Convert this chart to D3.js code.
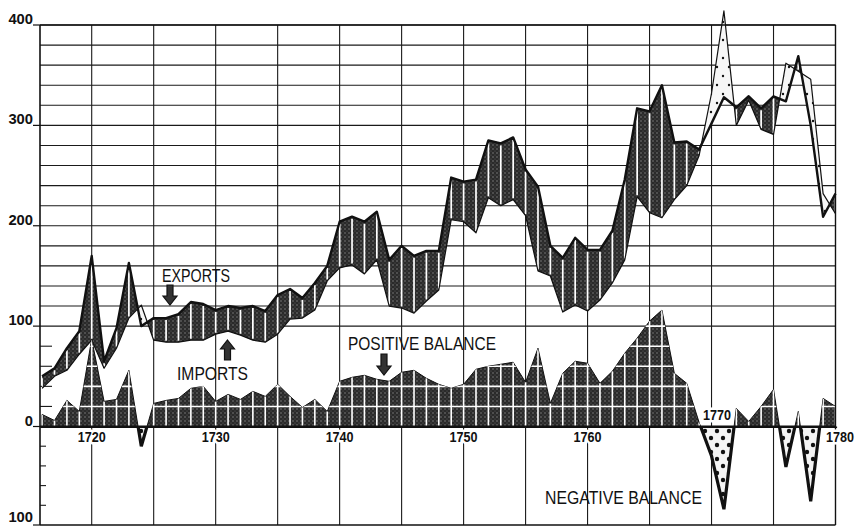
<!DOCTYPE html>
<html><head><meta charset="utf-8">
<script src="https://cdn.jsdelivr.net/npm/d3@7"></script>
<style>body{margin:0;background:#fff} svg{display:block}</style>
</head><body><svg id="c" width="856" height="526"></svg>
<script>
// ---------- data ----------
const years = d3.range(1716, 1781);
const exportsData = [50,58,78,95,170,65,98,163,100,108,108,112,124,122,116,120,118,120,115,131,137,128,143,160,
  204,209,204,214,166,180,170,175,175,248,244,246,285,282,288,256,239,180,168,188,176,176,195,246,317,314,340,
  283,284,276,302,328,318,329,317,329,324,369,300,209,232];
const importsData = [38,50,56,72,86,58,78,108,121,86,84,84,86,86,92,95,91,86,84,92,107,108,116,145,
  158,161,152,166,120,118,113,125,136,206,204,193,228,220,226,210,155,150,114,121,115,126,143,166,229,213,208,
  226,240,270,332,414,300,325,296,291,362,354,346,232,212];
const balanceData = [12,6,26,15,87,25,27,56,-20,23,26,28,38,40,25,32,27,35,30,42,30,19,27,15,
  45,49,51,47,45,54,56,48,42,38,42,57,60,62,64,44,78,23,53,65,63,43,55,73,88,105,116,
  53,43,4,-30,-84,18,5,20,37,-41,15,-76,28,20];
const yTickValues = [400,300,200,100,0,-100];
const yTickLabels = ["400","300","200","100","0","100"];
const decadeLabels = [1720,1730,1740,1750,1760];
const gridYears = d3.range(1720, 1781, 5);
const gridValues = d3.range(100, 401, 20);
const smallTicksPos = [20,40,60,80];
const smallTicksNeg = [-20,-40,-60,-80];
const balanceGrid = [20,40,60,80,100,120];

// ---------- scales ----------
const W = 856, H = 526;
const x = d3.scaleLinear().domain([1720, 1780]).range([91.7, 835.5]);
const y = d3.scaleLinear().domain([-100, 0, 400]).range([525, 426.5, 25]);
const L = 40, R = x(1780);
const FONT = "'Liberation Sans','Arial',sans-serif";

const data = years.map((yr, i) => ({yr, e: exportsData[i], im: importsData[i], b: balanceData[i]}));
const svg = d3.select("#c");
const defs = svg.append("defs");

// patterns
const st = defs.append("pattern").attr("id","stip").attr("patternUnits","userSpaceOnUse").attr("width",4).attr("height",4);
st.append("rect").attr("width",4).attr("height",4).attr("fill","#2a2a2a");
st.append("circle").attr("cx",1).attr("cy",1).attr("r",0.7).attr("fill","#8c8c8c");
st.append("circle").attr("cx",3).attr("cy",3).attr("r",0.5).attr("fill","#6a6a6a");
const dl = defs.append("pattern").attr("id","dotL").attr("patternUnits","userSpaceOnUse").attr("width",12).attr("height",18);
dl.append("rect").attr("width",12).attr("height",18).attr("fill","#f6f6f6");
dl.append("circle").attr("cx",3).attr("cy",4).attr("r",1.2).attr("fill","#111");
dl.append("circle").attr("cx",9).attr("cy",13).attr("r",1.2).attr("fill","#111");
const dn = defs.append("pattern").attr("id","dotN").attr("patternUnits","userSpaceOnUse").attr("width",12).attr("height",14);
dn.append("rect").attr("width",12).attr("height",14).attr("fill","#f4f4f4");
dn.append("circle").attr("cx",3).attr("cy",4).attr("r",2.2).attr("fill","#111");
dn.append("circle").attr("cx",9).attr("cy",11).attr("r",2.2).attr("fill","#111");

// clip paths
const areaBelowE = d3.area().x(d=>x(d.yr)).y0(H+50).y1(d=>y(d.e));
const areaAboveE = d3.area().x(d=>x(d.yr)).y0(-50).y1(d=>y(d.e));
defs.append("clipPath").attr("id","belowE").append("path").attr("d", areaBelowE(data));
defs.append("clipPath").attr("id","aboveE").append("path").attr("d", areaAboveE(data));
defs.append("clipPath").attr("id","aboveZero").append("rect").attr("x",0).attr("y",0).attr("width",W).attr("height",y(0));
defs.append("clipPath").attr("id","belowZero").append("rect").attr("x",0).attr("y",y(0)).attr("width",W).attr("height",H-y(0));
const balArea = d3.area().x(d=>x(d.yr)).y0(y(0)).y1(d=>y(d.b));
defs.append("clipPath").attr("id","balClip").append("path").attr("d", balArea(data));

// ---------- grid ----------
const grid = svg.append("g").attr("stroke","#1a1a1a").attr("stroke-width",1.1);
grid.selectAll(".h").data(gridValues).join("line")
  .attr("x1",L).attr("x2",R).attr("y1",d=>y(d)).attr("y2",d=>y(d));
grid.selectAll(".v").data(gridYears).join("line")
  .attr("x1",d=>x(d)).attr("x2",d=>x(d)).attr("y1",y(400)).attr("y2",y(-100));
grid.selectAll(".tp").data(smallTicksPos).join("line")
  .attr("x1",L).attr("x2",L+12).attr("y1",d=>y(d)).attr("y2",d=>y(d));
grid.selectAll(".tn").data(smallTicksNeg).join("line")
  .attr("x1",L).attr("x2",L+6).attr("y1",d=>y(d)).attr("y2",d=>y(d));

// ---------- export / import band ----------
const band = d3.area().x(d=>x(d.yr)).y0(d=>y(d.im)).y1(d=>y(d.e));
svg.append("path").attr("d", band(data)).attr("fill","url(#stip)").attr("clip-path","url(#belowE)");
svg.append("path").attr("d", band(data)).attr("fill","url(#dotL)").attr("clip-path","url(#aboveE)");
svg.append("g").attr("clip-path","url(#belowE)").selectAll("line")
  .data(data.filter(d=>d.e - d.im > 4)).join("line")
  .attr("x1",d=>x(d.yr)).attr("x2",d=>x(d.yr))
  .attr("y1",d=>y(d.e)+2).attr("y2",d=>y(d.im)-1.5)
  .attr("stroke","#fff").attr("stroke-width",1.7);
const lineE = d3.line().x(d=>x(d.yr)).y(d=>y(d.e));
const lineI = d3.line().x(d=>x(d.yr)).y(d=>y(d.im));
svg.append("path").attr("d", lineI(data)).attr("fill","none").attr("stroke","#111").attr("stroke-width",1.2).attr("stroke-linejoin","round");
svg.append("path").attr("d", lineE(data)).attr("fill","none").attr("stroke","#111").attr("stroke-width",2.4).attr("stroke-linejoin","round");

// ---------- balance ----------
const pos = svg.append("g").attr("clip-path","url(#aboveZero)");
pos.append("path").attr("d", balArea(data)).attr("fill","url(#stip)").attr("stroke","#111").attr("stroke-width",1);
const posGrid = pos.append("g").attr("clip-path","url(#balClip)");
posGrid.selectAll(".bv").data(data.filter(d=>d.b>0)).join("line")
  .attr("x1",d=>x(d.yr)).attr("x2",d=>x(d.yr)).attr("y1",y(0)).attr("y2",d=>y(d.b))
  .attr("stroke","#fff").attr("stroke-width",1.6);
posGrid.selectAll(".bh").data(balanceGrid).join("line")
  .attr("x1",L).attr("x2",R).attr("y1",d=>y(d)).attr("y2",d=>y(d))
  .attr("stroke","#fff").attr("stroke-width",1.6);
const neg = svg.append("g").attr("clip-path","url(#belowZero)");
neg.append("path").attr("d", balArea(data)).attr("fill","url(#dotN)").attr("stroke","#111").attr("stroke-width",3.2).attr("stroke-linejoin","miter");

// ---------- frame ----------
const frame = svg.append("g").attr("stroke","#111");
frame.append("line").attr("x1",L).attr("x2",R).attr("y1",y(0)).attr("y2",y(0)).attr("stroke-width",2);
frame.append("line").attr("x1",L).attr("x2",L).attr("y1",y(400)).attr("y2",y(-100)).attr("stroke-width",1.6);
frame.append("line").attr("x1",R).attr("x2",R).attr("y1",y(400)).attr("y2",y(-100)).attr("stroke-width",1.3);
frame.append("line").attr("x1",L).attr("x2",R).attr("y1",y(-100)).attr("y2",y(-100)).attr("stroke-width",1.6);
frame.append("line").attr("x1",L).attr("x2",R).attr("y1",y(400)).attr("y2",y(400)).attr("stroke-width",1.4);
frame.selectAll(".yt").data(yTickValues).join("line")
  .attr("x1",33).attr("x2",L).attr("y1",d=>y(d)).attr("y2",d=>y(d)).attr("stroke-width",1.2);

// ---------- labels ----------
function label(sel){
  return sel.attr("font-family",FONT).attr("font-weight","bold").attr("font-size",14).attr("fill","#111")
    .attr("lengthAdjust","spacingAndGlyphs");
}
label(svg.selectAll(".yl").data(yTickValues).join("text"))
  .attr("x",33).attr("y",(d,i)=> i===yTickLabels.length-1 ? y(d)-3 : y(d)-1).attr("text-anchor","end")
  .attr("textLength",(d,i)=>yTickLabels[i].length*8.2)
  .text((d,i)=>yTickLabels[i]);
function halo(sel){ return sel.attr("stroke","#fff").attr("stroke-width",5).attr("paint-order","stroke").attr("stroke-linejoin","round"); }
halo(label(svg.selectAll(".xl").data(decadeLabels).join("text"))
  .attr("x",d=>x(d)).attr("y",442).attr("text-anchor","middle").attr("textLength",28)
  .text(d=>d));
halo(label(svg.append("text")).attr("x",717).attr("y",420).attr("text-anchor","middle").attr("textLength",28).text("1770"));
halo(label(svg.append("text")).attr("x",826).attr("y",442).attr("text-anchor","start").attr("textLength",28).text("1780"));

const ann = [
  {t:"EXPORTS", x:162, y:281.5, w:68},
  {t:"IMPORTS", x:177, y:380, w:71},
  {t:"POSITIVE BALANCE", x:348, y:350, w:148},
  {t:"NEGATIVE BALANCE", x:545, y:504, w:157}
];
svg.selectAll(".an").data(ann).join("text")
  .attr("x",d=>d.x).attr("y",d=>d.y)
  .attr("font-family",FONT).attr("font-size",19).attr("fill","#111")
  .attr("textLength",d=>d.w).attr("lengthAdjust","spacingAndGlyphs")
  .text(d=>d.t);

function arrow(cx, top, h, down){
  const hw=7, sw=3, hh=9;
  let p;
  if(down){
    p=`M${cx-sw},${top}L${cx+sw},${top}L${cx+sw},${top+h-hh}L${cx+hw},${top+h-hh}L${cx},${top+h}L${cx-hw},${top+h-hh}L${cx-sw},${top+h-hh}Z`;
  } else {
    p=`M${cx},${top}L${cx+hw},${top+hh}L${cx+sw},${top+hh}L${cx+sw},${top+h}L${cx-sw},${top+h}L${cx-sw},${top+hh}L${cx-hw},${top+hh}Z`;
  }
  svg.append("path").attr("d",p).attr("fill","#333").attr("stroke","#111").attr("stroke-width",1.2);
}
arrow(170, 285, 20, true);
arrow(227.5, 340, 20, false);
arrow(384, 354, 21, true);
</script></body></html>
